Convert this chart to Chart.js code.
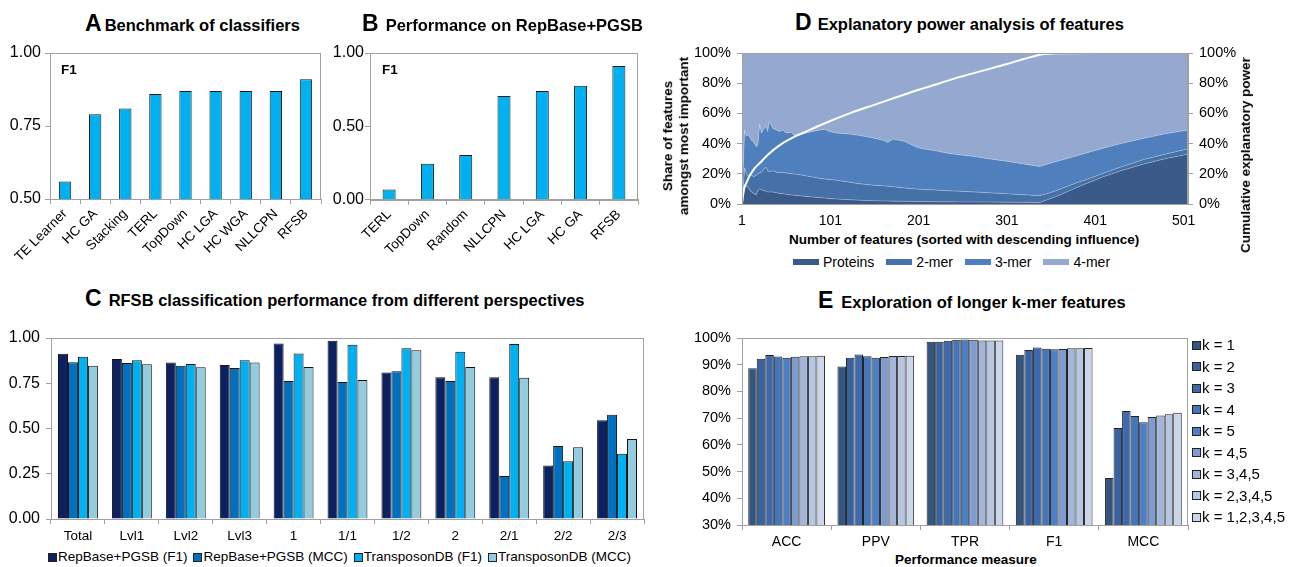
<!DOCTYPE html>
<html>
<head>
<meta charset="utf-8">
<script src="https://cdn.jsdelivr.net/npm/chart.js@4.4.1/dist/chart.umd.min.js"></script>
<style>
  html, body { margin: 0; padding: 0; background: #fff; }
  body { width: 1289px; height: 567px; position: relative; overflow: hidden;
         font-family: 'Liberation Sans', Arial, sans-serif; color: #000; }
  canvas { position: absolute; }
  .title { position: absolute; white-space: nowrap; font-weight: bold; display: flex;
           align-items: baseline; line-height: 1; }
  .title .k { font-size: 23px; }
  .title .s { font-size: 16.5px; }
  .lbl { position: absolute; white-space: nowrap; font-weight: bold; font-size: 13.5px; line-height: 16px; }
  .legend { position: absolute; display: flex; align-items: center; line-height: 16px; white-space: nowrap; }
  .legend .it { display: flex; align-items: center; }
  .sq { display: inline-block; width: 7px; height: 7px; border: 1px solid #222; margin-right: 1px; }
  .sw { display: inline-block; width: 26px; height: 6px; margin-right: 4px; }
</style>
</head>
<body>
<script>
// ---------- data ----------
const benchClassifiers = ['TE Learner', 'HC GA', 'Stacking', 'TERL', 'TopDown', 'HC LGA', 'HC WGA', 'NLLCPN', 'RFSB'];
const benchF1 = [0.56, 0.79, 0.81, 0.86, 0.87, 0.87, 0.87, 0.87, 0.91];

const repClassifiers = ['TERL', 'TopDown', 'Random', 'NLLCPN', 'HC LGA', 'HC GA', 'RFSB'];
const repF1 = [0.07, 0.245, 0.305, 0.707, 0.741, 0.777, 0.911];

const perspectives = ['Total', 'Lvl1', 'Lvl2', 'Lvl3', '1', '1/1', '1/2', '2', '2/1', '2/2', '2/3'];
const perspSeries = ['RepBase+PGSB (F1)', 'RepBase+PGSB (MCC)', 'TransposonDB (F1)', 'TransposonDB (MCC)'];
const repbaseF1  = [0.913, 0.884, 0.864, 0.851, 0.969, 0.985, 0.810, 0.783, 0.783, 0.295, 0.545];
const repbaseMCC = [0.866, 0.862, 0.847, 0.834, 0.762, 0.757, 0.816, 0.762, 0.238, 0.403, 0.576];
const transF1    = [0.897, 0.877, 0.856, 0.877, 0.915, 0.963, 0.943, 0.924, 0.967, 0.319, 0.361];
const transMCC   = [0.847, 0.855, 0.838, 0.864, 0.840, 0.768, 0.932, 0.840, 0.781, 0.396, 0.442];

// share of feature types among the n most important features
const featureIdx = [1, 3, 4, 6, 8, 10, 12, 14, 17, 19, 21, 23, 25, 28, 30, 32, 36, 40, 44, 47, 51, 57, 61, 66,
  74, 81, 89, 95, 100, 108, 119, 130, 147, 162, 166, 172, 185, 197, 204, 219, 234, 249, 264, 280, 304, 320,
  338, 350, 361, 380, 395, 410, 430, 456, 480, 506];
const shareProteins = [0, 6, 10, 12, 11, 9, 8, 7, 6, 9, 10, 9.5, 9, 8.5, 8, 8, 8, 7.5, 7, 6.8, 6.5, 6, 5.8, 5.5,
  5, 4.6, 4.2, 3.9, 3.6, 3.3, 3, 2.6, 2.2, 2, 2, 1.9, 1.8, 1.7, 1.6, 1.5, 1.5, 1.4, 1.4, 1.3, 1.2, 1.1,
  1, 3.5, 6, 11, 14.5, 18, 22, 26.5, 30, 33];
const share2mer = [0, 9, 14, 8, 7, 11, 11, 11, 13, 11, 10.5, 11.5, 13.5, 16, 14, 13.5, 14, 13.5, 13.8, 14.2, 14, 14, 14, 14,
  13.6, 13.2, 12.8, 12.6, 12.6, 12.5, 11.8, 11.1, 10.4, 10, 9.8, 9.6, 8.8, 8.3, 8.1, 7.8, 7.3, 7, 6.6, 6.2, 5.5, 5,
  4.5, 4, 3.8, 3, 2.5, 2.3, 2.5, 3, 3, 3.5];
const share3mer = [0, 20, 25, 25, 28, 24, 23, 23, 19, 19, 32.5, 26, 26.5, 27.5, 26, 33, 28, 28, 27.2, 28, 26.5, 27.5, 24.9, 26.5,
  28.4, 30.2, 32, 33, 31.8, 31.2, 31.7, 32.1, 31.4, 30, 28.9, 31.5, 30.9, 28, 27, 26.1, 24.8, 24.1, 23.4, 22.5, 21.3, 20.4,
  19.3, 19.5, 19, 17.9, 17.5, 16.7, 15.5, 14, 13.5, 12.5];
const share4mer = [100, 65, 51, 55, 54, 56, 58, 59, 62, 61, 47, 53, 51, 48, 52, 45.5, 50, 51, 52, 51, 53, 52.5, 55.3, 54,
  53, 52, 51, 50.5, 52, 53, 53.5, 54.2, 56, 58, 59.3, 57, 58.5, 62, 63.3, 64.6, 66.4, 67.5, 68.6, 70, 72, 73.5,
  75.2, 73, 71.2, 68.1, 65.5, 63, 60, 56.5, 53.5, 51];
const featureTicks = [1, 101, 201, 301, 401, 501];
const cumFeatures = [1, 3, 6, 10, 15, 21, 30, 45, 60, 72, 85, 101, 125, 150, 175, 200, 225, 250, 275, 300, 320, 340, 360, 400, 506];
const cumPower    = [0, 9.5, 14, 19, 23.5, 27, 32.5, 39.5, 44.5, 47.5, 51, 55, 60.5, 65.5, 70.5, 75.5, 80, 84.5, 88.5, 92.5, 96, 99, 99.8, 100, 100];
const featureTypes = ['Proteins', '2-mer', '3-mer', '4-mer'];

const measures = ['ACC', 'PPV', 'TPR', 'F1', 'MCC'];
const kmerSets = ['k = 1', 'k = 2', 'k = 3', 'k = 4', 'k = 5', 'k = 4,5', 'k = 3,4,5', 'k = 2,3,4,5', 'k = 1,2,3,4,5'];
const kmerScores = [
  [88.7, 89.3, 98.6, 93.7, 47.6],
  [92.2, 92.6, 98.6, 95.5, 66.3],
  [93.6, 93.8, 99.0, 96.4, 72.7],
  [93.1, 93.2, 99.3, 96.0, 70.8],
  [92.6, 92.6, 99.4, 95.8, 68.5],
  [93.0, 92.9, 99.3, 95.9, 70.4],
  [93.2, 93.3, 99.1, 96.2, 71.0],
  [93.2, 93.3, 99.1, 96.2, 71.5],
  [93.4, 93.4, 99.1, 96.3, 72.0]
];

// ---------- styling ----------
const FONT = "'Liberation Sans', Arial, sans-serif";
const AX = '#a0a0a0';
const CYAN = '#00b0f0';
const perspColors = ['#0b2161', '#0070c0', '#00b0f0', '#93cddd'];
const featureColors = ['#3a5b8a', '#4670a8', '#4f80bd', '#95a9d0'];
const kmerColors = ['#34557f', '#3a62a0', '#3e69ac', '#4676ba', '#4c7fc5', '#7e9ccf', '#a3b6da', '#b7c6e3', '#ccd6ea'];

Chart.defaults.font.family = FONT;
Chart.defaults.font.size = 13;
Chart.defaults.color = '#000';
Chart.defaults.animation = false;
Chart.defaults.responsive = false;
Chart.defaults.maintainAspectRatio = false;
Chart.defaults.devicePixelRatio = 1;
Chart.defaults.plugins.legend.display = false;
Chart.defaults.plugins.tooltip.enabled = false;

// grey box around each plot area
Chart.register({
  id: 'plotFrame',
  afterDatasetsDraw(chart) {
    const { left, top, right, bottom } = chart.chartArea;
    const ctx = chart.ctx;
    ctx.save();
    ctx.strokeStyle = AX;
    ctx.lineWidth = 1;
    ctx.strokeRect(Math.round(left) + 0.5, Math.round(top) + 0.5, Math.round(right - left) - 1, Math.round(bottom - top));
    ctx.restore();
  }
});

function makeCanvas(left, top, w, h) {
  const c = document.createElement('canvas');
  c.width = w; c.height = h;
  c.style.left = left + 'px'; c.style.top = top + 'px';
  c.style.width = w + 'px'; c.style.height = h + 'px';
  document.body.appendChild(c);
  return c;
}
// fixed axis sizes so every plot area sits exactly where the layout wants it
const fixW = w => s => { s.width = w; s.paddingTop = 0; s.paddingBottom = 0; };
const fixH = h => s => { s.height = h; s.paddingLeft = 0; s.paddingRight = 0; };
const fix2 = v => Number(v).toFixed(2);
const pct = v => Math.round(v) + '%';

function valueAxis(min, max, step, width, fmt, size, pad, extra = {}) {
  return Object.assign({
    min, max, afterFit: fixW(width),
    border: { display: true, color: AX },
    grid: { drawOnChartArea: false, drawTicks: true, tickLength: 5, color: AX },
    ticks: { stepSize: step, padding: pad, callback: fmt, color: '#000', font: { size } }
  }, extra);
}
function categoryAxis(height, rotate, pad, size) {
  return {
    type: 'category', offset: true, afterFit: fixH(height),
    border: { display: true, color: AX },
    grid: { offset: true, drawOnChartArea: false, drawTicks: true, tickLength: 5, color: AX },
    ticks: { autoSkip: false, minRotation: rotate, maxRotation: rotate, padding: pad, color: '#000', font: { size } }
  };
}

function addTitle(letter, text, left, top, gap) {
  const d = document.createElement('div');
  d.className = 'title';
  d.style.left = left + 'px'; d.style.top = top + 'px';
  d.innerHTML = '<span class="k" style="margin-right:' + gap + 'px">' + letter + '</span><span class="s">' + text + '</span>';
  document.body.appendChild(d);
}
function addLabel(text, cx, cy, rotate) {
  const d = document.createElement('div');
  d.className = 'lbl';
  d.textContent = text;
  document.body.appendChild(d);
  const w = d.offsetWidth, h = d.offsetHeight;
  d.style.left = (cx - w / 2) + 'px';
  d.style.top = (cy - h / 2) + 'px';
  if (rotate) d.style.transform = 'rotate(' + rotate + 'deg)';
  return d;
}

// ---------- A: benchmark of classifiers ----------
new Chart(makeCanvas(0, 43, 335, 240), {
  type: 'bar',
  data: { labels: benchClassifiers, datasets: [{ data: benchF1, backgroundColor: CYAN, borderColor: '#1a1a1a', borderWidth: 1,
    categoryPercentage: 1, barPercentage: 0.41 }] },
  options: {
    layout: { padding: { top: 10, right: 14, left: 0, bottom: 0 } },
    scales: { x: categoryAxis(84, 45, 2, 13.5), y: valueAxis(0.5, 1, 0.25, 50, fix2, 16, 4) }
  }
});
addTitle('A', 'Benchmark of classifiers', 85, 11.5, 3);
addLabel('F1', 69, 70);

// ---------- B: performance on RepBase+PGSB ----------
new Chart(makeCanvas(325, 43, 327, 240), {
  type: 'bar',
  data: { labels: repClassifiers, datasets: [{ data: repF1, backgroundColor: CYAN, borderColor: '#1a1a1a', borderWidth: 1,
    categoryPercentage: 1, barPercentage: 0.34 }] },
  options: {
    layout: { padding: { top: 10, right: 14, left: 0, bottom: 0 } },
    scales: { x: categoryAxis(83.3, 45, 2, 13.5), y: valueAxis(0, 1, 0.5, 45, fix2, 16, 1) }
  }
});
addTitle('B', 'Performance on RepBase+PGSB', 362, 11.5, 7);
addLabel('F1', 390, 70);

// ---------- C: RFSB performance from different perspectives ----------
const perspValues = [repbaseF1, repbaseMCC, transF1, transMCC];
new Chart(makeCanvas(0, 328, 660, 213), {
  type: 'bar',
  data: { labels: perspectives, datasets: perspSeries.map((name, i) => ({
    label: name, data: perspValues[i], backgroundColor: perspColors[i], borderColor: '#111', borderWidth: 1,
    categoryPercentage: 0.74, barPercentage: 1 })) },
  options: {
    layout: { padding: { top: 10, right: 16, left: 0, bottom: 0 } },
    scales: { x: categoryAxis(22, 0, 4, 13.5), y: valueAxis(0, 1, 0.25, 51, fix2, 16, 6) }
  }
});
addTitle('C', 'RFSB classification performance from different perspectives', 85, 286.5, 7);
{
  const lg = document.createElement('div');
  lg.className = 'legend';
  lg.style.left = '48px'; lg.style.top = '549px';
  lg.style.fontSize = '13.5px';
  perspSeries.forEach((name, i) => {
    const it = document.createElement('span');
    it.className = 'it';
    it.style.marginRight = '6px';
    it.innerHTML = '<span class="sq" style="background:' + perspColors[i] + '"></span>' + name;
    lg.appendChild(it);
  });
  document.body.appendChild(lg);
}

// ---------- D: explanatory power of features ----------
const shareSeries = [shareProteins, share2mer, share3mer, share4mer];
const areaSets = featureTypes.map((name, i) => ({
  label: name, type: 'line', yAxisID: 'y',
  data: featureIdx.map((x, j) => ({ x, y: shareSeries[i][j] })),
  backgroundColor: featureColors[i],
  borderColor: i < 3 ? 'rgba(255,255,255,0.35)' : 'rgba(0,0,0,0)',
  borderWidth: i < 3 ? 0.8 : 0,
  fill: i === 0 ? 'origin' : '-1',
  pointRadius: 0, tension: 0, order: 1
}));
areaSets.push({
  label: 'Cumulative explanatory power', type: 'line', yAxisID: 'y2',
  data: cumFeatures.map((x, j) => ({ x, y: cumPower[j] })),
  borderColor: '#ffffff', borderWidth: 2, fill: false, pointRadius: 0,
  cubicInterpolationMode: 'monotone', order: 0
});
new Chart(makeCanvas(660, 43, 580, 185), {
  type: 'line',
  data: { datasets: areaSets },
  options: {
    layout: { padding: { top: 10, right: 0, left: 0, bottom: 0 } },
    scales: {
      x: { type: 'linear', min: 1, max: 506, afterFit: fixH(24),
        afterBuildTicks: s => { s.ticks = featureTicks.map(v => ({ value: v })); },
        border: { display: false }, grid: { display: false, drawTicks: false },
        ticks: { padding: 9, autoSkip: false, maxRotation: 0, color: '#000', font: { size: 14 } } },
      y: valueAxis(0, 100, 20, 82, pct, 14.5, 6, { stacked: true }),
      y2: Object.assign(valueAxis(0, 100, 20, 52, pct, 14.5, 6), { position: 'right' })
    }
  }
});
addTitle('D', 'Explanatory power analysis of features', 795, 11, 6);
{
  const d = document.createElement('div');
  d.className = 'lbl';
  d.style.textAlign = 'center';
  d.style.lineHeight = '16px';
  d.innerHTML = 'Share of features<br>amongst most important';
  document.body.appendChild(d);
  const w = d.offsetWidth, h = d.offsetHeight;
  d.style.left = (676 - w / 2) + 'px'; d.style.top = (136 - h / 2) + 'px';
  d.style.transform = 'rotate(-90deg)';
}
addLabel('Cumulative explanatory power', 1246, 155, -90);
addLabel('Number of features (sorted with descending influence)', 964, 240);
{
  const lg = document.createElement('div');
  lg.className = 'legend';
  lg.style.left = '793px'; lg.style.top = '254px';
  lg.style.fontSize = '14px';
  featureTypes.forEach((name, i) => {
    const it = document.createElement('span');
    it.className = 'it';
    it.style.marginRight = '12px';
    it.innerHTML = '<span class="sw" style="background:' + featureColors[i] + '"></span>' + name;
    lg.appendChild(it);
  });
  document.body.appendChild(lg);
}

// ---------- E: longer k-mer features ----------
new Chart(makeCanvas(660, 328, 540, 222), {
  type: 'bar',
  data: { labels: measures, datasets: kmerSets.map((name, i) => ({
    label: name, data: kmerScores[i], backgroundColor: kmerColors[i], borderColor: '#222', borderWidth: 1,
    categoryPercentage: 0.86, barPercentage: 1 })) },
  options: {
    layout: { padding: { top: 10, right: 12, left: 0, bottom: 0 } },
    scales: { x: categoryAxis(25, 0, 4, 14), y: valueAxis(30, 100, 10, 82, pct, 14.5, 6) }
  }
});
addTitle('E', 'Exploration of longer k-mer features', 818, 288.5, 8);
addLabel('Performance measure', 966, 560);
kmerSets.forEach((name, i) => {
  const it = document.createElement('div');
  it.className = 'legend';
  it.style.fontSize = '15px';
  it.style.left = '1192px';
  it.style.top = (345 + i * 21.5 - 8) + 'px';
  it.innerHTML = '<span class="sq" style="background:' + kmerColors[i] + '"></span>' + name;
  document.body.appendChild(it);
});
</script>
</body>
</html>
